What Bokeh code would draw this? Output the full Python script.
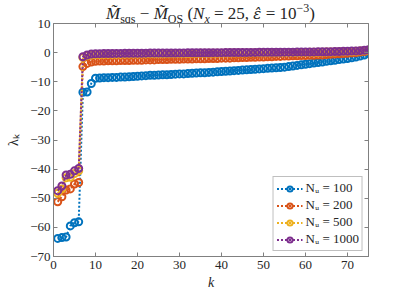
import math
from bokeh.plotting import figure
from bokeh.layouts import column
from bokeh.models import (LinearAxis, Range1d, FixedTicker, Legend, LegendItem,
                          Div, CustomJSTickFormatter)
from bokeh.embed import file_html
from bokeh.resources import INLINE

k = list(range(1, 76))

lam_100 = [-63.8, -63.5, -63.3, -59.5, -58.4, -58.1, -13.6, -13.5, -10.6, -8.8,
           -8.7, -8.6, -8.6, -8.5, -8.5, -8.4, -8.4, -8.3, -8.2, -8.1,
           -8.0, -7.9, -7.8, -7.8, -7.7, -7.6, -7.6, -7.5, -7.4, -7.3,
           -7.3, -7.2, -7.1, -7.0, -6.9, -6.9, -6.8, -6.7, -6.6, -6.5,
           -6.4, -6.3, -6.2, -6.1, -6.0, -5.9, -5.8, -5.7, -5.6, -5.5,
           -5.4, -5.3, -5.2, -5.1, -5.0, -4.8, -4.6, -4.4, -4.2, -4.0,
           -3.8, -3.6, -3.4, -3.2, -3.0, -2.8, -2.6, -2.4, -2.2, -2.0,
           -1.8, -1.5, -1.2, -0.8, -0.3]

lam_200 = [-51.2, -49.5, -47.2, -46.8, -45.1, -44.6, -4.8, -3.7, -3.2, -3.0,
           -2.9, -2.9, -2.8, -2.8, -2.8, -2.7, -2.7, -2.7, -2.6, -2.6,
           -2.6, -2.5, -2.5, -2.5, -2.4, -2.4, -2.4, -2.3, -2.3, -2.3,
           -2.2, -2.2, -2.2, -2.1, -2.1, -2.1, -2.0, -2.0, -2.0, -1.9,
           -1.9, -1.9, -1.8, -1.8, -1.7, -1.7, -1.6, -1.6, -1.5, -1.5,
           -1.4, -1.4, -1.3, -1.3, -1.2, -1.2, -1.1, -1.1, -1.0, -1.0,
           -0.9, -0.9, -0.8, -0.8, -0.7, -0.6, -0.5, -0.4, -0.3, -0.2,
           -0.1, 0.0, 0.2, 0.4, 0.6]

lam_500 = [-48.3, -46.8, -43.0, -42.8, -41.5, -40.6, -1.7, -1.1, -0.8, -0.7,
           -0.65, -0.62, -0.6, -0.58, -0.56, -0.54, -0.52, -0.5, -0.48, -0.46,
           -0.45, -0.43, -0.42, -0.4, -0.39, -0.37, -0.36, -0.35, -0.33, -0.32,
           -0.3, -0.29, -0.28, -0.26, -0.25, -0.24, -0.22, -0.21, -0.2, -0.18,
           -0.17, -0.16, -0.14, -0.13, -0.12, -0.1, -0.09, -0.08, -0.06, -0.05,
           -0.04, -0.02, -0.01, 0.0, 0.02, 0.03, 0.04, 0.06, 0.07, 0.08,
           0.1, 0.12, 0.14, 0.16, 0.18, 0.2, 0.23, 0.26, 0.3, 0.34,
           0.4, 0.47, 0.55, 0.68, 0.85]

lam_1000 = [-47.4, -45.8, -42.0, -41.8, -40.6, -39.8, -1.4, -0.8, -0.5, -0.4,
            -0.35, -0.32, -0.3, -0.3, -0.28, -0.26, -0.25, -0.24, -0.22, -0.2,
            -0.2, -0.18, -0.17, -0.16, -0.15, -0.14, -0.13, -0.12, -0.11, -0.1,
            -0.09, -0.08, -0.07, -0.06, -0.05, -0.04, -0.03, -0.02, -0.01, 0.0,
            0.01, 0.02, 0.03, 0.04, 0.05, 0.06, 0.07, 0.08, 0.09, 0.1,
            0.11, 0.12, 0.13, 0.14, 0.15, 0.16, 0.17, 0.18, 0.19, 0.2,
            0.22, 0.24, 0.26, 0.28, 0.3, 0.33, 0.36, 0.4, 0.44, 0.48,
            0.53, 0.6, 0.68, 0.8, 1.0]

series = [lam_100, lam_200, lam_500, lam_1000]
series_labels = ["N\u1d64 = 100", "N\u1d64 = 200", "N\u1d64 = 500", "N\u1d64 = 1000"]
colors = ["#0072BD", "#D95319", "#EDB120", "#7E2F8E"]
x_ticks = [0, 10, 20, 30, 40, 50, 60, 70]
y_ticks = [-70, -60, -50, -40, -30, -20, -10, 0, 10]
x_lim = (0, 75)
y_lim = (-70, 10)

FONT = "Liberation Serif"
AX = "#808080"
TXT = "#262626"

W = 405
DIV_H = 16
FIG_H = 293 - DIV_H
FRAME_BOTTOM = 256 - DIV_H

SUB = 'style="font-size:12px;line-height:0"'
title_html = (
    '<div style="width:405px; box-sizing:border-box; overflow:visible; '
    'position:relative; top:5px; '
    'font-family:\'Liberation Serif\',serif; font-size:17px; '
    'color:#262626; text-align:center; padding-left:16px; padding-top:2px; '
    'line-height:14px; white-space:nowrap;">'
    f'<i>M&#771;</i><sub {SUB}>sqs</sub> &minus; '
    f'<i>M&#771;</i><sub {SUB}>OS</sub> '
    f'(<i>N<sub {SUB}>x</sub></i> = 25, '
    '<i style="font-family:\'DejaVu Serif\',serif;font-size:15px">&#949;&#770;</i> = 10'
    f'<sup {SUB}>&minus;3</sup>)'
    '</div>'
)
title_div = Div(text=title_html, width=W, height=DIV_H, margin=(0, 0, 0, 0),
                styles={"overflow": "visible"})

p = figure(width=W, height=FIG_H, output_backend="svg", toolbar_location=None,
           x_range=Range1d(*x_lim), y_range=Range1d(*y_lim),
           min_border_left=53, min_border_right=W - 368,
           min_border_top=7, min_border_bottom=FIG_H - FRAME_BOTTOM,
           background_fill_color="white", border_fill_color=None,
           margin=(0, 0, 0, 0))
p.grid.visible = False
p.outline_line_color = AX
p.outline_line_width = 1

for ax, lab in ((p.xaxis[0], "k"), (p.yaxis[0], "\u03bb\u2096")):
    ax.axis_label = lab
    ax.axis_label_text_font = FONT
    ax.axis_label_text_font_style = "italic"
    ax.axis_label_text_font_size = "14px"
    ax.axis_label_text_color = TXT
    ax.major_label_text_font = FONT
    ax.major_label_text_font_size = "13px"
    ax.major_label_text_color = TXT
    ax.axis_line_color = AX
    ax.major_tick_line_color = AX
    ax.major_tick_in = 4
    ax.major_tick_out = 0
    ax.minor_tick_line_color = None
p.xaxis[0].ticker = FixedTicker(ticks=x_ticks)
p.yaxis[0].ticker = FixedTicker(ticks=y_ticks)
p.xaxis[0].axis_label_standoff = 3
p.xaxis[0].major_label_standoff = 4
p.yaxis[0].axis_label_standoff = 6
p.yaxis[0].major_label_standoff = 3
p.yaxis[0].axis_label_text_font_style = "normal"

blank = CustomJSTickFormatter(code="return ''")
right = LinearAxis(ticker=FixedTicker(ticks=y_ticks), formatter=blank,
                   major_tick_in=4, major_tick_out=0, minor_tick_line_color=None,
                   axis_line_color=AX, major_tick_line_color=AX,
                   major_label_standoff=0, major_label_text_font_size="0px")
p.add_layout(right, "right")

# top-edge inward ticks (half of each dash is clipped by the frame)
p.scatter(x_ticks, [y_lim[1]] * len(x_ticks), marker="dash", size=8,
          angle=math.pi / 2, line_color=AX, line_width=1)

items = []
for ys, c, lab in zip(series, colors, series_labels):
    ln = p.line(k, ys, line_color=c, line_width=2, line_dash="2 2")
    sc = p.scatter(k, ys, marker="circle", size=7, line_color=c, line_width=2,
                   fill_color=None)
    items.append(LegendItem(label=lab, renderers=[ln, sc]))

legend = Legend(items=items, location="bottom_right", glyph_width=26,
                glyph_height=13, label_height=13, spacing=1, padding=3, margin=5,
                label_text_font=FONT, label_text_font_size="13px",
                label_text_color=TXT, border_line_color=AX,
                background_fill_alpha=1.0, label_standoff=3)
p.add_layout(legend)

layout = column(title_div, p, spacing=0, margin=(0, 0, 0, 0))
open("out.html", "w").write(file_html(layout, INLINE))
